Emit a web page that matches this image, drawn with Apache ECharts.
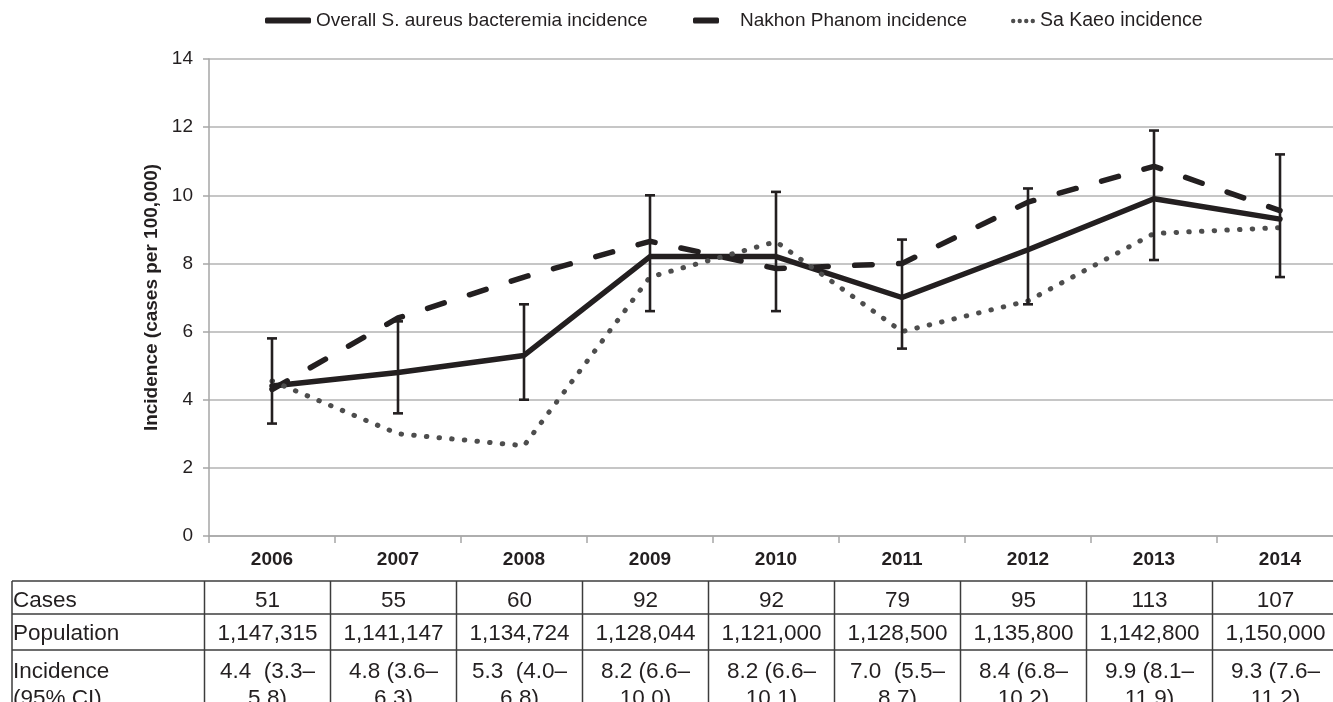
<!DOCTYPE html>
<html>
<head>
<meta charset="utf-8">
<script src="https://cdn.jsdelivr.net/npm/echarts@6/dist/echarts.min.js"></script>
<style>
html,body{margin:0;padding:0;background:#ffffff;}
#chart{width:1333px;height:702px;}
</style>
</head>
<body>
<div id="chart"></div>
<script>
// ---- data ----
const years = ['2006', '2007', '2008', '2009', '2010', '2011', '2012', '2013', '2014'];
const overall = [4.4, 4.8, 5.3, 8.2, 8.2, 7.0, 8.4, 9.9, 9.3];
const ciLow = [3.3, 3.6, 4.0, 6.6, 6.6, 5.5, 6.8, 8.1, 7.6];
const ciHigh = [5.8, 6.3, 6.8, 10.0, 10.1, 8.7, 10.2, 11.9, 11.2];
const nakhonPhanom = [4.3, 6.4, 7.6, 8.65, 7.85, 8.0, 9.8, 10.85, 9.55];
const saKaeo = [4.55, 3.0, 2.65, 7.6, 8.64, 6.0, 6.9, 8.88, 9.05];
const cases = [51, 55, 60, 92, 92, 79, 95, 113, 107];
const population = [1147315, 1141147, 1134724, 1128044, 1121000, 1128500, 1135800, 1142800, 1150000];
const incidenceCI = ['4.4  (3.3–\n5.8)', '4.8 (3.6–\n6.3)', '5.3  (4.0–\n6.8)', '8.2 (6.6–\n10.0)', '8.2 (6.6–\n10.1)', '7.0  (5.5–\n8.7)', '8.4 (6.8–\n10.2)', '9.9 (8.1–\n11.9)', '9.3 (7.6–\n11.2)'];
const rowLabels = ['Cases', 'Population', 'Incidence\n(95% CI)'];
const seriesNames = ['Overall S. aureus bacteremia incidence', 'Nakhon Phanom incidence', 'Sa Kaeo incidence'];
const yAxisName = 'Incidence (cases per 100,000)';

// ---- style ----
const FONT = '"Liberation Sans", Arial, Helvetica, sans-serif';
const INK = '#231f20';
const GRID = '#b3b3b3';

const chart = echarts.init(document.getElementById('chart'), null, {renderer: 'canvas'});

function dotsPath(n, r, gap) {
  let d = 'path://';
  for (let i = 0; i < n; i++) {
    const cx = r + i * gap;
    d += 'M' + (cx - r) + ',' + r + 'a' + r + ',' + r + ' 0 1,0 ' + (2 * r) + ',0a' + r + ',' + r + ' 0 1,0 ' + (-2 * r) + ',0z';
  }
  return d;
}

const legendText = {fontFamily: FONT, fontSize: 19, color: INK};
const LEG_TOP = 11;

const option = {
  backgroundColor: '#ffffff',
  animation: false,
  grid: {left: 209, top: 59, width: 1134, height: 477, outerBoundsMode: 'none', containLabel: false},
  legend: [
    {left: 265, top: LEG_TOP, padding: 0, itemWidth: 46, itemHeight: 6, selectedMode: false,
     data: [{name: seriesNames[0], icon: 'roundRect', itemStyle: {color: INK}}], textStyle: legendText},
    {left: 693, top: LEG_TOP, padding: 0, itemWidth: 26, itemHeight: 6, selectedMode: false,
     data: [{name: seriesNames[1], icon: 'roundRect', itemStyle: {color: INK}}], textStyle: Object.assign({}, legendText, {padding: [0, 0, 0, 16]})},
    {left: 1011, top: LEG_TOP, padding: 0, itemWidth: 24, itemHeight: 4.4, selectedMode: false,
     data: [{name: seriesNames[2], icon: dotsPath(4, 2.2, 6.53), itemStyle: {color: '#4d4d4d'}}], textStyle: Object.assign({}, legendText, {fontSize: 19.5})}
  ],
  xAxis: {
    type: 'category', data: years, boundaryGap: true,
    axisLine: {show: true, lineStyle: {color: '#a6a6a6', width: 1.5}},
    axisTick: {show: true, interval: 0, length: 7, lineStyle: {color: '#a6a6a6', width: 1.5}},
    axisLabel: {interval: 0, fontFamily: FONT, fontSize: 19, fontWeight: 'bold', color: INK, margin: 14},
    splitLine: {show: false}
  },
  yAxis: {
    type: 'value', min: 0, max: 14, interval: 2,
    name: yAxisName, nameLocation: 'middle', nameRotate: 90, nameGap: 38,
    nameTextStyle: {fontFamily: FONT, fontSize: 19, fontWeight: 'bold', color: INK},
    axisLine: {show: true, lineStyle: {color: '#a6a6a6', width: 1.5}},
    axisTick: {show: true, length: 6, lineStyle: {color: '#a6a6a6', width: 1.5}},
    axisLabel: {fontFamily: FONT, fontSize: 19, color: INK, margin: 16},
    splitLine: {show: true, lineStyle: {color: GRID, width: 1.5}}
  },
  series: [
    {
      name: seriesNames[0], type: 'line', data: overall, symbol: 'none', z: 3,
      color: INK,
      lineStyle: {color: INK, width: 5.5, cap: 'round', join: 'round'}
    },
    {
      name: 'CI', type: 'custom', z: 4,
      data: years.map((y, i) => [i, ciLow[i], ciHigh[i]]),
      encode: {x: 0, y: [1, 2]},
      renderItem: function (params, api) {
        const pLo = api.coord([api.value(0), api.value(1)]);
        const pHi = api.coord([api.value(0), api.value(2)]);
        const x = pLo[0];
        const hw = 5;
        const st = {stroke: INK, lineWidth: 2.6};
        return {
          type: 'group',
          children: [
            {type: 'line', shape: {x1: x, y1: pLo[1], x2: x, y2: pHi[1]}, style: st},
            {type: 'line', shape: {x1: x - hw, y1: pLo[1], x2: x + hw, y2: pLo[1]}, style: st},
            {type: 'line', shape: {x1: x - hw, y1: pHi[1], x2: x + hw, y2: pHi[1]}, style: st}
          ]
        };
      }
    },
    {
      name: seriesNames[1], type: 'line', data: nakhonPhanom, symbol: 'none', z: 3,
      color: INK,
      lineStyle: {color: INK, width: 5.5, type: [17.5, 26.5], cap: 'round', join: 'round'}
    },
    {
      name: seriesNames[2], type: 'line', data: saKaeo, symbol: 'none', z: 3, smooth: false,
      color: '#4d4d4d',
      lineStyle: {color: '#4d4d4d', width: 5, type: [0.5, 12.2], cap: 'round', join: 'round'}
    }
  ]
};

chart.setOption(option);

// ---- data table under the axis, positioned through the category axis ----
function buildTable() {
  const g = [];
  const lineStyle = {stroke: '#3c3c3c', lineWidth: 1.5};
  const centers = years.map(y => chart.convertToPixel({xAxisIndex: 0}, y));
  const step = centers.length > 1 ? centers[1] - centers[0] : 126;
  const shift = -4.5;
  const tableLeft = 12;
  const rowsY = [581, 614, 650];
  const rightEdge = centers[centers.length - 1] + step / 2 + shift;
  rowsY.forEach(y => {
    g.push({type: 'line', shape: {x1: tableLeft, y1: y, x2: rightEdge, y2: y}, style: lineStyle});
  });
  g.push({type: 'line', shape: {x1: tableLeft, y1: rowsY[0], x2: tableLeft, y2: 702}, style: lineStyle});
  centers.forEach(c => {
    const bx = c - step / 2 + shift;
    g.push({type: 'line', shape: {x1: bx, y1: rowsY[0], x2: bx, y2: 702}, style: lineStyle});
  });
  g.push({type: 'line', shape: {x1: rightEdge, y1: rowsY[0], x2: rightEdge, y2: 702}, style: lineStyle});

  const ts = {fontFamily: FONT, fontSize: 22.5, fill: INK};
  const rowCenters = [601, 633.5];
  const incTop = 658;
  const incLH = 27;
  g.push({type: 'text', x: 13, y: rowCenters[0], style: Object.assign({}, ts, {text: rowLabels[0], align: 'left', verticalAlign: 'middle'})});
  g.push({type: 'text', x: 13, y: rowCenters[1], style: Object.assign({}, ts, {text: rowLabels[1], align: 'left', verticalAlign: 'middle'})});
  g.push({type: 'text', x: 13, y: incTop, style: Object.assign({}, ts, {text: rowLabels[2], align: 'left', verticalAlign: 'top', lineHeight: incLH})});
  centers.forEach((c, i) => {
    const cx = c + shift;
    g.push({type: 'text', x: cx, y: rowCenters[0], style: Object.assign({}, ts, {text: String(cases[i]), align: 'center', verticalAlign: 'middle'})});
    g.push({type: 'text', x: cx, y: rowCenters[1], style: Object.assign({}, ts, {text: population[i].toLocaleString('en-US'), align: 'center', verticalAlign: 'middle'})});
    g.push({type: 'text', x: cx, y: incTop, style: Object.assign({}, ts, {text: incidenceCI[i], align: 'center', verticalAlign: 'top', lineHeight: incLH})});
  });
  chart.setOption({graphic: g.map(e => Object.assign({silent: true}, e))});
}
buildTable();
</script>
</body>
</html>
